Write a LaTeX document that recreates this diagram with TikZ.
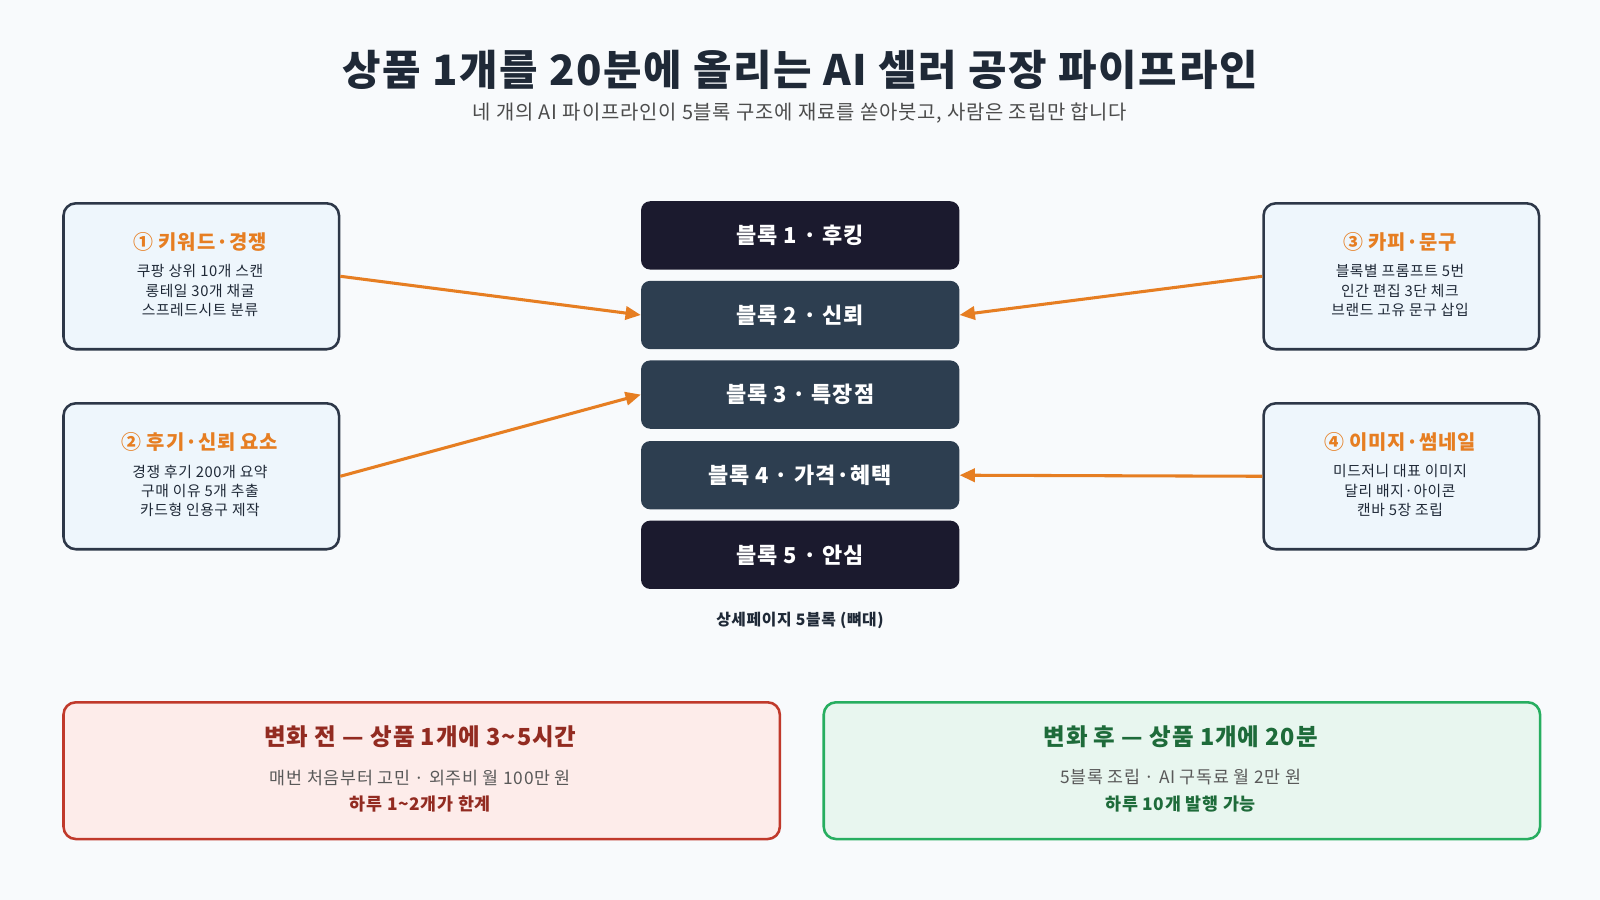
\documentclass[tikz,border=0pt]{standalone}
\usepackage{fontspec}
\setmainfont{Noto Sans CJK KR}[LetterSpace=4]
\usetikzlibrary{arrows.meta}
\definecolor{bg}{HTML}{F8FAFC}
\definecolor{dk}{HTML}{1B1A2E}
\definecolor{sl}{HTML}{2D3E50}
\definecolor{bd}{HTML}{2D3748}
\definecolor{lb}{HTML}{EEF6FC}
\definecolor{og}{HTML}{E67E22}
\definecolor{rf}{HTML}{FDECEA}
\definecolor{rb}{HTML}{C0392B}
\definecolor{rt}{HTML}{922B21}
\definecolor{gf}{HTML}{E8F6EF}
\definecolor{gb}{HTML}{27AE60}
\definecolor{gt}{HTML}{1E6B3A}
\definecolor{tx}{HTML}{1F2937}
\begin{document}
\begin{tikzpicture}[x=1pt,y=-1pt,
  side/.style={draw=bd,line width=2.5pt,fill=lb,rounded corners=12pt,minimum width=270pt,minimum height=143pt,anchor=north west,inner sep=0pt},
  blk/.style={rounded corners=9pt,minimum width=312pt,minimum height=67pt,anchor=north west,inner sep=0pt,text=white,font=\fontsize{21.5}{24}\selectfont\bfseries},
  res/.style={line width=2.5pt,rounded corners=12pt,minimum width=702pt,minimum height=134pt,anchor=north west,inner sep=0pt},
  arr/.style={draw=og,line width=3pt,-{Triangle[length=15pt,width=13pt]}},
  hd/.style={text=og,font=\fontsize{19.5}{22}\selectfont\bfseries},
  bt/.style={text=tx,align=center,font=\fontsize{14.5}{19}\selectfont}]
\fill[bg] (0,0) rectangle (1568,882);
\node[text=tx,font=\fontsize{41}{46}\selectfont\bfseries] (title) at (784,68) {상품 1개를 20분에 올리는 AI 셀러 공장 파이프라인};
\node[text=black!70,font=\fontsize{19.5}{22}\selectfont] (sub) at (784,111) {네 개의 AI 파이프라인이 5블록 구조에 재료를 쏟아붓고, 사람은 조립만 합니다};
% blocks
\node[blk,fill=dk] (b1) at (628,197) {블록 1 · 후킹};
\node[blk,fill=sl] (b2) at (628,275) {블록 2 · 신뢰};
\node[blk,fill=sl] (b3) at (628,353) {블록 3 · 특장점};
\node[blk,fill=sl] (b4) at (628,432) {블록 4 · 가격·혜택};
\node[blk,fill=dk] (b5) at (628,510) {블록 5 · 안심};
\node[text=tx,font=\fontsize{15.5}{18}\selectfont\bfseries] (cap) at (784,608) {상세페이지 5블록 (뼈대)};
% side boxes
\node[side] (s1) at (61,198) {};
\node[hd] at (196,237) {① 키워드·경쟁};
\node[bt] at (196,285) {쿠팡 상위 10개 스캔\\롱테일 30개 채굴\\스프레드시트 분류};
\node[side] (s2) at (61,394) {};
\node[hd] at (196,433) {② 후기·신뢰 요소};
\node[bt] at (196,481) {경쟁 후기 200개 요약\\구매 이유 5개 추출\\카드형 인용구 제작};
\node[side] (s3) at (1237,198) {};
\node[hd] at (1372,237) {③ 카피·문구};
\node[bt] at (1372,285) {블록별 프롬프트 5번\\인간 편집 3단 체크\\브랜드 고유 문구 삽입};
\node[side] (s4) at (1237,394) {};
\node[hd] at (1372,433) {④ 이미지·썸네일};
\node[bt] at (1372,481) {미드저니 대표 이미지\\달리 배지·아이콘\\캔바 5장 조립};
% arrows
\draw[arr] (s1.east) -- (b2.west);
\draw[arr] (s2.east) -- (b3.west);
\draw[arr] (s3.west) -- (b2.east);
\draw[arr] (s4.west) -- (b4.east);
% result boxes
\node[res,draw=rb,fill=rf] (r1) at (61,687) {};
\node[text=rt,font=\fontsize{23}{26}\selectfont\bfseries] at (412,722) {변화 전 — 상품 1개에 3\textasciitilde5시간};
\node[text=black!65,font=\fontsize{17}{20}\selectfont] at (412,762) {매번 처음부터 고민 · 외주비 월 100만 원};
\node[text=rt,font=\fontsize{17}{20}\selectfont\bfseries] at (412,788) {하루 1\textasciitilde2개가 한계};
\node[res,draw=gb,fill=gf] (r2) at (806,687) {};
\node[text=gt,font=\fontsize{23}{26}\selectfont\bfseries] at (1157,722) {변화 후 — 상품 1개에 20분};
\node[text=black!65,font=\fontsize{17}{20}\selectfont] at (1157,762) {5블록 조립 · AI 구독료 월 2만 원};
\node[text=gt,font=\fontsize{17}{20}\selectfont\bfseries] at (1157,788) {하루 10개 발행 가능};
\end{tikzpicture}
\end{document}
